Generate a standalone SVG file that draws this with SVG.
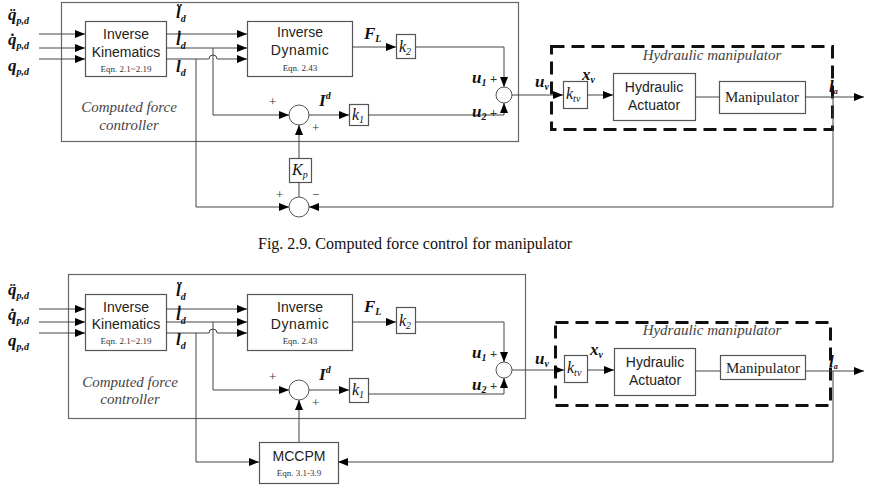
<svg xmlns="http://www.w3.org/2000/svg" width="873" height="490" viewBox="0 0 873 490">
<defs>
<marker id="ah" viewBox="0 0 10 8" refX="10" refY="4" markerWidth="10" markerHeight="8" orient="auto" markerUnits="userSpaceOnUse"><path d="M0,0 L10,4 L0,8 z" fill="#000"/></marker>
<style>
.box{fill:#fff;stroke:#555;stroke-width:1.2}
.frame{fill:none;stroke:#666;stroke-width:1.2}
.dash{fill:none;stroke:#111;stroke-width:3;stroke-dasharray:13 7}
.ln{fill:none;stroke:#444;stroke-width:1}
.arr{fill:none;stroke:#444;stroke-width:1;marker-end:url(#ah)}
.sum{fill:#fff;stroke:#555;stroke-width:1}
.sans{font-family:"Liberation Sans",Arial,sans-serif;font-size:14px;fill:#222;text-anchor:middle}
.eq{font-family:"Liberation Serif","Times New Roman",serif;font-size:9px;fill:#333;text-anchor:middle}
.ser{font-family:"Liberation Serif","Times New Roman",serif;font-size:15px;fill:#222;text-anchor:middle}
.it{font-family:"Liberation Serif","Times New Roman",serif;font-style:italic;font-size:15px;fill:#444;text-anchor:middle}
.m{font-family:"Liberation Serif","Times New Roman",serif;font-style:italic;font-weight:bold;font-size:17px;fill:#111}
.k{font-family:"Liberation Serif","Times New Roman",serif;font-style:italic;font-size:16px;fill:#111}
.sb{font-size:10px}
.pm{font-family:"Liberation Serif","Times New Roman",serif;font-size:13px;fill:#333}
.cap{font-family:"Liberation Serif","Times New Roman",serif;font-size:16px;fill:#111}
</style>
</defs>

<!-- ================= TOP DIAGRAM ================= -->
<g id="top-controller"><rect class="frame" x="61.5" y="2.5" width="457" height="139"/>
<text class="it" x="129" y="112">Computed force</text><text class="it" x="129" y="130">controller</text></g>
<g id="top-hydraulic"><rect class="dash" x="551.5" y="46.5" width="281" height="83"/>
<text class="it" x="712" y="60">Hydraulic manipulator</text></g>

<g id="top-inputs">
<text class="m" x="8" y="20">q&#x308;<tspan class="sb" dy="4">p,d</tspan></text>
<text class="m" x="8" y="45">q&#x307;<tspan class="sb" dy="4">p,d</tspan></text>
<text class="m" x="8" y="71">q<tspan class="sb" dy="4">p,d</tspan></text>
</g>
<g id="top-ik"><rect class="box" x="85.5" y="21.5" width="81" height="55"/>
<text class="sans" x="126" y="39">Inverse</text><text class="sans" x="126" y="57">Kinematics</text><text class="eq" x="126" y="72" font-size="8">Eqn. 2.1~2.19</text></g>
<g id="top-id"><rect class="box" x="247.5" y="21.5" width="105" height="55"/>
<text class="sans" x="300" y="37">Inverse</text><text class="sans" x="300" y="55" letter-spacing="0.6">Dynamic</text><text class="eq" x="300" y="71">Eqn. 2.43</text></g>
<g id="top-k2"><rect class="box" x="396.5" y="34.5" width="19" height="24"/><text class="k" x="399" y="52">k<tspan class="sb" dy="3">2</tspan></text></g>
<g id="top-k1"><rect class="box" x="349.5" y="104.5" width="19" height="21"/><text class="k" x="352" y="120">k<tspan class="sb" dy="3">1</tspan></text></g>
<g id="top-kp"><rect class="box" x="289.5" y="158.5" width="22" height="24"/><text class="k" x="292" y="175">K<tspan class="sb" dy="3">p</tspan></text></g>
<g id="top-sum1"><circle class="sum" cx="299" cy="115" r="10"/></g>
<g id="top-sum2"><circle class="sum" cx="504" cy="95" r="8"/></g>
<g id="top-sum3"><circle class="sum" cx="299" cy="207" r="10"/></g>
<g id="top-ktv"><rect class="box" x="563.5" y="81.5" width="24" height="27"/><text class="k" x="566" y="99">k<tspan class="sb" dy="3">tv</tspan></text></g>
<g id="top-ha"><rect class="box" x="613.5" y="73.5" width="82" height="47"/><text class="sans" x="654" y="92">Hydraulic</text><text class="sans" x="654" y="110">Actuator</text></g>
<g id="top-man"><rect class="box" x="719.5" y="81.5" width="86" height="32"/><text class="ser" x="762" y="102">Manipulator</text></g>

<g id="top-connectors">
<path class="arr" d="M39,34 H85"/><path class="arr" d="M39,48 H85"/><path class="arr" d="M39,59 H85"/>
<path class="arr" d="M166,34 H247"/><path class="arr" d="M166,48 H247"/>
<path class="arr" d="M166,59 H209 A4,4 0 0 1 217,59 H247"/>
<path class="arr" d="M213,48 V115 H289"/>
<path class="arr" d="M196,59 V207 H289"/>
<path class="arr" d="M309,115 H349"/>
<path class="arr" d="M368,115 H504 V103"/>
<path class="arr" d="M352,47 H396"/>
<path class="arr" d="M415,47 H504 V87"/>
<path class="arr" d="M512,95 H563"/>
<path class="arr" d="M587,95 H613"/>
<path class="ln" d="M695,97 H719"/>
<path class="arr" d="M805,97 H864"/>
<path class="arr" d="M833,97 V207 H309"/>
<path class="ln" d="M299,197 V182"/>
<path class="arr" d="M299,158 V125"/>
</g>
<g id="top-labels">
<text class="m" x="176" y="18">l&#x308;<tspan class="sb" dy="4">d</tspan></text>
<text class="m" x="176" y="45">l&#x307;<tspan class="sb" dy="4">d</tspan></text>
<text class="m" x="176" y="72">l<tspan class="sb" dy="4">d</tspan></text>
<text class="m" x="364" y="39">F<tspan class="sb" dy="3">L</tspan></text>
<text class="m" x="319" y="106">I<tspan class="sb" dy="-7">d</tspan></text>
<text class="m" x="472" y="83">u<tspan class="sb" dy="3">1</tspan><tspan class="pm" dy="-3"> +</tspan></text>
<text class="m" x="472" y="117">u<tspan class="sb" dy="3">2</tspan><tspan class="pm" dy="-3"> +</tspan></text>
<text class="m" x="535" y="87">u<tspan class="sb" dy="3">v</tspan></text>
<text class="m" x="582" y="80">x<tspan class="sb" dy="3">v</tspan></text>
<text class="pm" x="269" y="106">+</text>
<text class="pm" x="312" y="132">+</text>
<text class="pm" x="276" y="199">+</text>
<text class="pm" x="312" y="199">−</text>
<text class="m" x="829" y="92" font-size="12">l<tspan font-size="8" dy="2">a</tspan></text>
</g>

<text class="cap" x="258" y="249">Fig. 2.9. Computed force control for manipulator</text>

<!-- ================= BOTTOM DIAGRAM ================= -->
<g id="bot-controller"><rect class="frame" x="68.5" y="274.5" width="457" height="144"/>
<text class="it" x="130" y="387">Computed force</text><text class="it" x="130" y="404">controller</text></g>
<g id="bot-hydraulic"><rect class="dash" x="555.5" y="322.5" width="275" height="83"/>
<text class="it" x="712" y="335">Hydraulic manipulator</text></g>

<g id="bot-inputs">
<text class="m" x="8" y="295">q&#x308;<tspan class="sb" dy="4">p,d</tspan></text>
<text class="m" x="8" y="320">q&#x307;<tspan class="sb" dy="4">p,d</tspan></text>
<text class="m" x="8" y="346">q<tspan class="sb" dy="4">p,d</tspan></text>
</g>
<g id="bot-ik"><rect class="box" x="85.5" y="294.5" width="81" height="56"/>
<text class="sans" x="126" y="312">Inverse</text><text class="sans" x="126" y="329">Kinematics</text><text class="eq" x="126" y="344" font-size="8">Eqn. 2.1~2.19</text></g>
<g id="bot-id"><rect class="box" x="247.5" y="294.5" width="105" height="56"/>
<text class="sans" x="300" y="312">Inverse</text><text class="sans" x="300" y="329" letter-spacing="0.6">Dynamic</text><text class="eq" x="300" y="344">Eqn. 2.43</text></g>
<g id="bot-k2"><rect class="box" x="396.5" y="307.5" width="19" height="26"/><text class="k" x="399" y="326">k<tspan class="sb" dy="3">2</tspan></text></g>
<g id="bot-k1"><rect class="box" x="349.5" y="378.5" width="19" height="24"/><text class="k" x="352" y="395">k<tspan class="sb" dy="3">1</tspan></text></g>
<g id="bot-sum1"><circle class="sum" cx="299" cy="390" r="10"/></g>
<g id="bot-sum2"><circle class="sum" cx="504" cy="370" r="8"/></g>
<g id="bot-mccpm"><rect class="box" x="259.5" y="442.5" width="79" height="41"/>
<text class="sans" x="299" y="461" font-size="15">MCCPM</text><text class="eq" x="299" y="476">Eqn. 3.1-3.9</text></g>
<g id="bot-ktv"><rect class="box" x="564.5" y="355.5" width="23" height="27"/><text class="k" x="567" y="373">k<tspan class="sb" dy="3">tv</tspan></text></g>
<g id="bot-ha"><rect class="box" x="614.5" y="348.5" width="81" height="47"/><text class="sans" x="655" y="367">Hydraulic</text><text class="sans" x="655" y="385">Actuator</text></g>
<g id="bot-man"><rect class="box" x="720.5" y="355.5" width="85" height="24"/><text class="ser" x="763" y="373">Manipulator</text></g>

<g id="bot-connectors">
<path class="arr" d="M39,309 H85"/><path class="arr" d="M39,322 H85"/><path class="arr" d="M39,333 H85"/>
<path class="arr" d="M166,309 H247"/><path class="arr" d="M166,322 H247"/>
<path class="arr" d="M166,333 H209 A4,4 0 0 1 217,333 H247"/>
<path class="arr" d="M213,322 V390 H289"/>
<path class="arr" d="M196,333 V462 H259"/>
<path class="arr" d="M309,390 H349"/>
<path class="arr" d="M368,394 H504 V378"/>
<path class="arr" d="M352,322 H396"/>
<path class="arr" d="M415,322 H504 V362"/>
<path class="arr" d="M512,370 H564"/>
<path class="arr" d="M587,370 H614"/>
<path class="ln" d="M695,371 H720"/>
<path class="arr" d="M805,371 H864"/>
<path class="arr" d="M833,371 V462 H338"/>
<path class="arr" d="M299,442 V400"/>
</g>
<g id="bot-labels">
<text class="m" x="176" y="296">l&#x308;<tspan class="sb" dy="4">d</tspan></text>
<text class="m" x="176" y="320">l&#x307;<tspan class="sb" dy="4">d</tspan></text>
<text class="m" x="176" y="345">l<tspan class="sb" dy="4">d</tspan></text>
<text class="m" x="364" y="312">F<tspan class="sb" dy="3">L</tspan></text>
<text class="m" x="319" y="380">I<tspan class="sb" dy="-7">d</tspan></text>
<text class="m" x="472" y="358">u<tspan class="sb" dy="3">1</tspan><tspan class="pm" dy="-3"> +</tspan></text>
<text class="m" x="472" y="390">u<tspan class="sb" dy="3">2</tspan><tspan class="pm" dy="-3"> +</tspan></text>
<text class="m" x="535" y="364">u<tspan class="sb" dy="3">v</tspan></text>
<text class="m" x="590" y="355">x<tspan class="sb" dy="3">v</tspan></text>
<text class="pm" x="269" y="381">+</text>
<text class="pm" x="312" y="407">+</text>
<text class="m" x="829" y="367" font-size="12">l<tspan font-size="8" dy="2">a</tspan></text>
</g>
</svg>
